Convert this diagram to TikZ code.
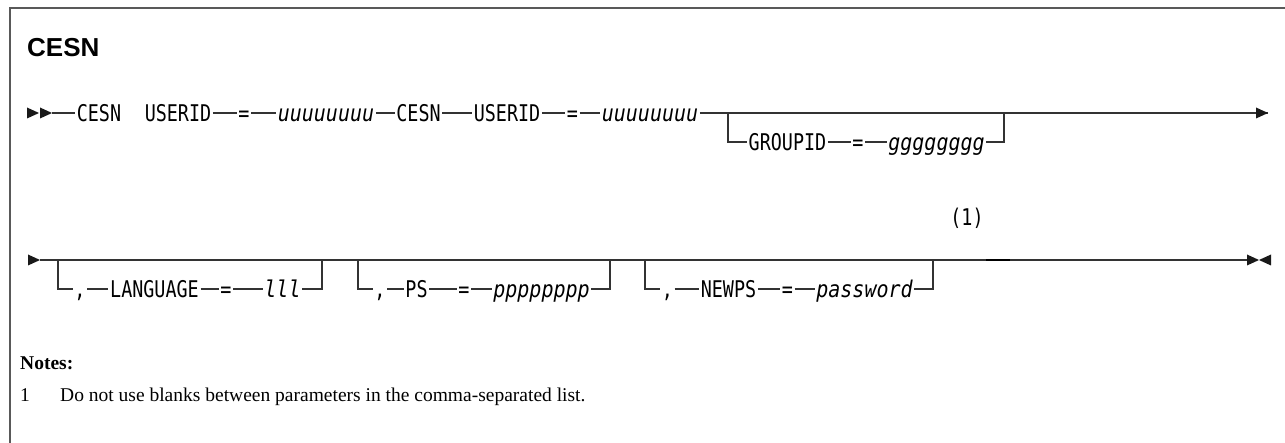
\documentclass[tikz,border=0pt]{standalone}
\usepackage{fontspec}
\setmainfont{Liberation Serif}
\newfontfamily\titlefont{Liberation Sans}
\newfontfamily\synfont[FakeStretch=0.8]{DejaVu Sans Mono}
\newfontfamily\varfont[FakeStretch=0.87]{DejaVu Sans Mono}
\begin{document}
\begin{tikzpicture}[x=1pt,y=-1pt,
  kw/.style={anchor=base,inner xsep=1.5pt,inner ysep=0pt,text height=16.8pt,text depth=0pt,
    font=\synfont\fontsize{23}{23}\selectfont},
  var/.style={kw,font=\varfont\itshape\fontsize{23}{23}\selectfont},
  rail/.style={line width=1.3pt,draw=black!80},
  frame/.style={line width=1.5pt,draw=black!65}]
\useasboundingbox (0,0) rectangle (1285,443);
\newcommand\rtri[1]{\fill[black!90] (#1) -- ++(-12,-5.5) -- ++(0,11) -- cycle;}
\newcommand\ltri[1]{\fill[black!90] (#1) -- ++(12,-5.5) -- ++(0,11) -- cycle;}
% frame
\coordinate (fa) at (1285,8);
\coordinate (fb) at (10,8);
\coordinate (fc) at (10,443);
\draw[frame] (fa) -- (fb) -- (fc);
% title
\node[anchor=base west,inner sep=0pt,font=\titlefont\bfseries\fontsize{26}{26}\selectfont] (title) at (27,57) {CESN};
% ---------- row 1 ----------
\coordinate (s1a) at (39,113);
\coordinate (s1b) at (52,113);
\rtri{s1a}\rtri{s1b}
\node[kw] (cesnA) at (99,121.4) {CESN};
\node[kw] (usrA) at (178,121.4) {USERID};
\node[kw] (eqA) at (244,121.4) {=};
\node[var] (uA) at (326,121.4) {uuuuuuuu};
\node[kw] (cesnB) at (418.5,121.4) {CESN};
\node[kw] (usrB) at (507,121.4) {USERID};
\node[kw] (eqB) at (572.5,121.4) {=};
\node[var] (uB) at (650,121.4) {uuuuuuuu};
\coordinate (j1a) at (728,113);
\coordinate (j1b) at (1004,113);
\coordinate (e1) at (1268,113);
\draw[rail] (s1b) -- (cesnA.west);
\draw[rail] (usrA.east) -- (eqA.west);
\draw[rail] (eqA.east) -- (uA.west);
\draw[rail] (uA.east) -- (cesnB.west);
\draw[rail] (cesnB.east) -- (usrB.west);
\draw[rail] (usrB.east) -- (eqB.west);
\draw[rail] (eqB.east) -- (uB.west);
\draw[rail] (uB.east) -- (e1);
\rtri{e1}
% GROUPID branch
\node[kw] (grp) at (787.5,150.4) {GROUPID};
\node[kw] (eqG) at (858,150.4) {=};
\node[var] (gg) at (936.5,150.4) {gggggggg};
\draw[rail] (j1a) |- (grp.west);
\draw[rail] (grp.east) -- (eqG.west);
\draw[rail] (eqG.east) -- (gg.west);
\draw[rail] (gg.east) -| (j1b);
% ---------- row 2 ----------
\coordinate (s2) at (40,260);
\rtri{s2}
\coordinate (e2) at (1247,260);
\coordinate (e2t) at (1259,260);
\draw[rail] (s2) -- (e2);
\rtri{e2t}\ltri{e2t}
% LANGUAGE branch
\coordinate (ja) at (58,260);
\coordinate (jb) at (322,260);
\node[kw] (cmA) at (80,297.4) {,};
\node[kw] (lang) at (154.5,297.4) {LANGUAGE};
\node[kw] (eqL) at (226,297.4) {=};
\node[var] (lll) at (282.5,297.4) {lll};
\draw[rail] (ja) |- (cmA.west);
\draw[rail] (cmA.east) -- (lang.west);
\draw[rail] (lang.east) -- (eqL.west);
\draw[rail] (eqL.east) -- (lll.west);
\draw[rail] (lll.east) -| (jb);
% PS branch
\coordinate (jc) at (358,260);
\coordinate (jd) at (610,260);
\node[kw] (cmB) at (380,297.4) {,};
\node[kw] (ps) at (416.5,297.4) {PS};
\node[kw] (eqP) at (464,297.4) {=};
\node[var] (pp) at (541.5,297.4) {pppppppp};
\draw[rail] (jc) |- (cmB.west);
\draw[rail] (cmB.east) -- (ps.west);
\draw[rail] (ps.east) -- (eqP.west);
\draw[rail] (eqP.east) -- (pp.west);
\draw[rail] (pp.east) -| (jd);
% NEWPS branch
\coordinate (je) at (645,260);
\coordinate (jf) at (933,260);
\node[kw] (cmC) at (667.5,297.4) {,};
\node[kw] (newps) at (728.5,297.4) {NEWPS};
\node[kw] (eqN) at (787.5,297.4) {=};
\node[var] (pw) at (864.5,297.4) {password};
\draw[rail] (je) |- (cmC.west);
\draw[rail] (cmC.east) -- (newps.west);
\draw[rail] (newps.east) -- (eqN.west);
\draw[rail] (eqN.east) -- (pw.west);
\draw[rail] (pw.east) -| (jf);
% note reference
\node[kw] (n1) at (967,226) {(1)};
\coordinate (ta) at (986,260);
\coordinate (tb) at (1010,260);
\draw[line width=2pt,black] (ta) -- (tb);
% ---------- notes ----------
\node[anchor=base west,inner sep=0pt,font=\bfseries\fontsize{19.5}{19.5}\selectfont] (notes) at (20,370) {Notes:};
\node[anchor=base west,inner sep=0pt,font=\fontsize{19.5}{19.5}\selectfont] (num) at (20,402) {1};
\node[anchor=base west,inner sep=0pt,font=\fontsize{19.5}{19.5}\selectfont] (ntext) at (60,402) {Do not use blanks between parameters in the comma-separated list.};
\end{tikzpicture}
\end{document}
